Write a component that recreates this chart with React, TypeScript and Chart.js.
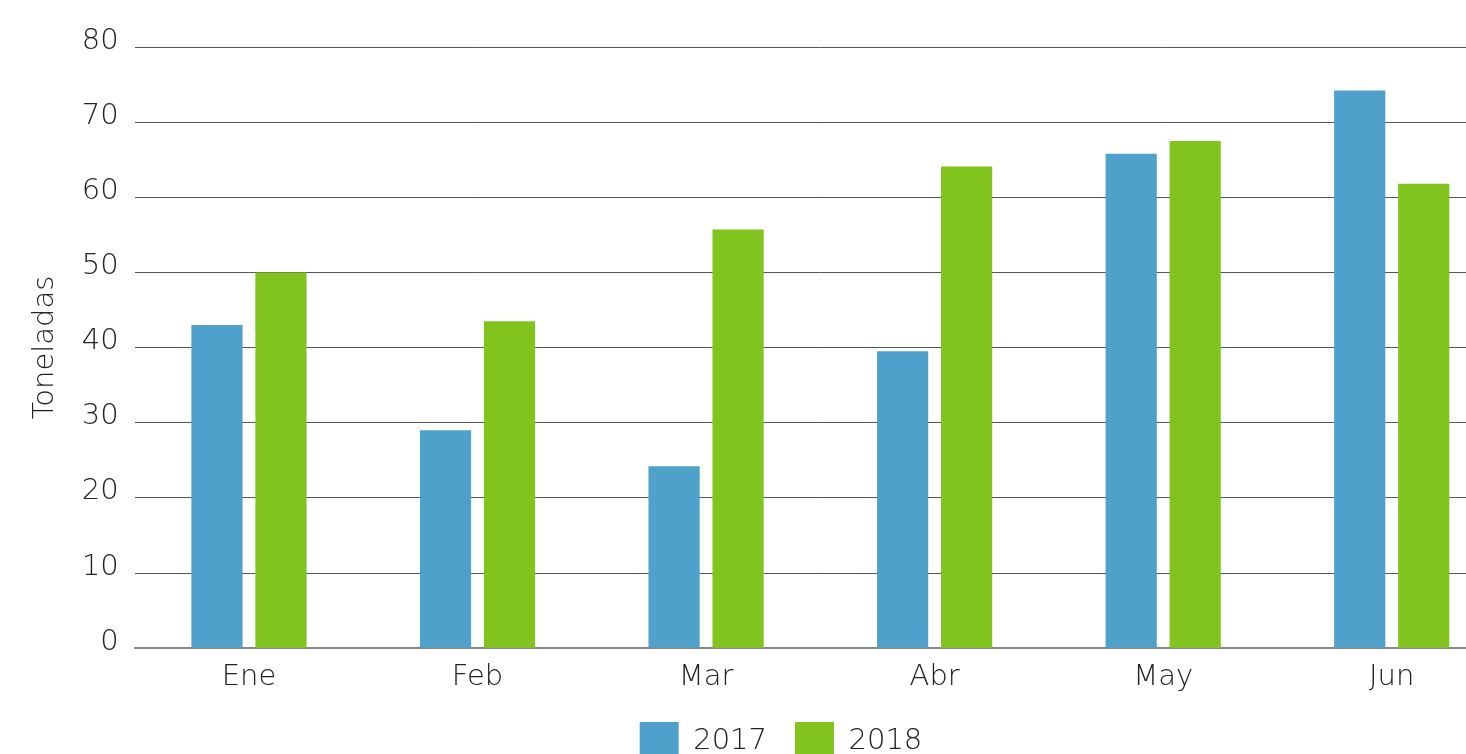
import React, { useEffect, useRef } from "react";
import { Chart, registerables } from "chart.js";

Chart.register(...registerables);

const categories = ["Ene", "Feb", "Mar", "Abr", "May", "Jun"];
const series2017 = [43, 29, 24.2, 39.5, 65.8, 74.2];
const series2018 = [50, 43.5, 55.7, 64.1, 67.5, 61.8];
const seriesLabels = ["2017", "2018"];
const yTicks = [0, 10, 20, 30, 40, 50, 60, 70, 80];
const yTitle = "Toneladas";

const FONT = "'DejaVu Sans', sans-serif";
const WEIGHT = "200";
const SIZE = 29;

const legendShift = {
  id: "legendShift",
  afterLayout(chart: any) {
    const l = chart.legend;
    if (l) {
      l.top -= 5;
      l.bottom -= 5;
      l.left += 14;
      l.right += 14;
    }
  },
};

export default function App() {
  const ref = useRef<HTMLCanvasElement | null>(null);
  useEffect(() => {
    if (!ref.current) return;
    const chart = new Chart(ref.current, {
      type: "bar",
      data: {
        labels: categories,
        datasets: [
          {
            label: seriesLabels[0],
            data: series2017,
            backgroundColor: "#4FA0CB",
            categoryPercentage: 0.56,
            barPercentage: 0.8,
          },
          {
            label: seriesLabels[1],
            data: series2018,
            backgroundColor: "#81C41E",
            categoryPercentage: 0.56,
            barPercentage: 0.8,
          },
        ],
      },
      plugins: [legendShift],
      options: {
        animation: false,
        responsive: true,
        maintainAspectRatio: false,
        layout: { padding: { top: 47, right: 0, left: 28, bottom: 0 } },
        plugins: {
          legend: {
            position: "bottom",
            labels: {
              boxWidth: 39,
              boxHeight: 39,
              padding: 28,
              color: "#222",
              font: { family: FONT, size: SIZE, weight: WEIGHT },
            },
          },
          tooltip: { enabled: false },
        },
        scales: {
          x: {
            grid: { display: false },
            border: { display: true, color: "#888", width: 2 },
            ticks: {
              color: "#222",
              padding: 4,
              font: { family: FONT, size: SIZE, weight: WEIGHT },
            },
          },
          y: {
            min: 0,
            max: 80,
            afterBuildTicks: (axis: any) => {
              axis.ticks = yTicks.map((v) => ({ value: v }));
            },
            grid: { color: "#555", lineWidth: 1, drawTicks: false },
            border: { display: false },
            title: {
              display: true,
              text: yTitle,
              color: "#222",
              padding: { top: 0, bottom: 3 },
              font: { family: FONT, size: SIZE, weight: WEIGHT },
            },
            ticks: {
              color: "#222",
              padding: 16,
              labelOffset: -6,
              font: { family: FONT, size: SIZE, weight: WEIGHT },
            },
          },
        },
      },
    });
    return () => chart.destroy();
  }, []);
  return (
    <div
      style={{
        position: "fixed",
        left: 0,
        top: 0,
        width: 1466,
        height: 754,
        overflow: "hidden",
        background: "#fff",
      }}
    >
      <div style={{ position: "absolute", left: 0, top: 0, width: 1506, height: 776 }}>
        <canvas ref={ref} />
      </div>
    </div>
  );
}
